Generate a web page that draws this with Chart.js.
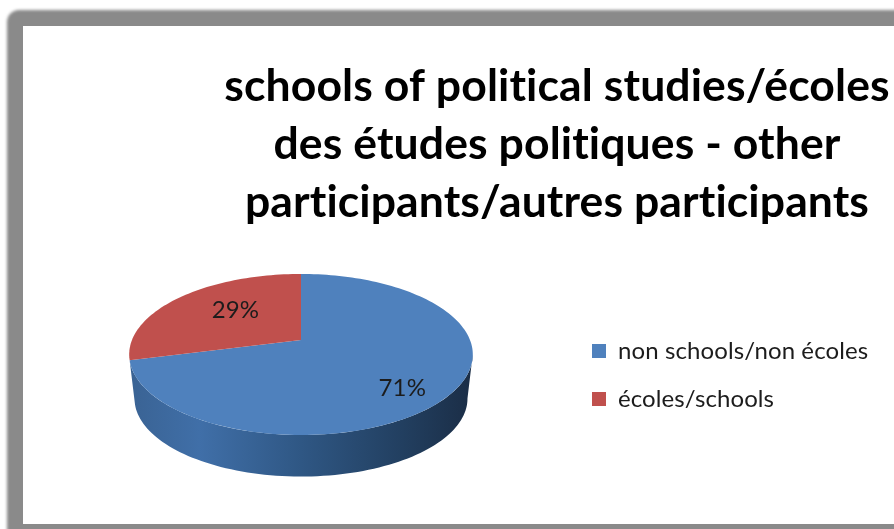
<!DOCTYPE html>
<html>
<head>
<meta charset="utf-8">
<style>
  html, body { margin: 0; background: #fff; overflow: hidden; }
  #stage { position: relative; width: 894px; height: 529px; overflow: hidden; }
  #frame { position: absolute; left: 7px; top: 10px; width: 1000px; height: 700px; background: #8a8a8a; border-radius: 12px; filter: blur(1.5px); }
  #paper { position: absolute; left: 23px; top: 26px; width: 900px; height: 498px; background: #fff; }
  canvas { position: absolute; left: 0; top: 0; }
</style>
<script src="https://cdn.jsdelivr.net/npm/chart.js@4"></script>
</head>
<body>
<div id="stage">
  <div id="frame"></div>
  <div id="paper"></div>
  <canvas id="pieChart" width="894" height="529"></canvas>
</div>
<script>
// Data
const categories = ["non schools/non écoles", "écoles/schools"];
const shares = [71, 29];
const sliceColors = ["#4f81bd", "#c0504d"];
const titleLines = [
    "schools of political studies/écoles",
    "des études politiques - other",
    "participants/autres participants"
];

// 3D look of the pie: tilt, perspective and thickness
const squash = 0.461;
const persp = -0.18;
const thickness = 45;
const bottomScale = 0.97;

// where each percentage sits inside its slice
const labelSpots = [{ f: 0.7, dy: 12 }, { f: 0.52, dy: -6 }];

// angle on the flat pie -> point on the tilted pie
function project(arc, a, f, drop) {
    const d = 1 + persp * f * Math.sin(a);
    return {
        x: arc.x + arc.outerRadius * f * Math.cos(a) / d,
        y: arc.y + drop + squash * arc.outerRadius * f * Math.sin(a) / d
    };
}

function tracePath(ctx, arc, from, to, f, drop, first) {
    const steps = Math.max(2, Math.ceil(Math.abs(to - from) / 0.03));
    for (let i = 0; i <= steps; i++) {
        const p = project(arc, from + (to - from) * i / steps, f, drop);
        if (i === 0 && first) ctx.moveTo(p.x, p.y);
        else ctx.lineTo(p.x, p.y);
    }
}

const tiltedPie = {
    id: 'tiltedPie',
    afterLayout(chart) {
        // title and legend sit off centre in the original
        chart.titleBlock.left = 224;
        chart.titleBlock.right = 890;
        const h = chart.legend.bottom - chart.legend.top;
        chart.legend.left = 568;
        chart.legend.top = 315;
        chart.legend.bottom = 315 + h;
    },
    beforeDraw(chart) {
        // a little spacing keeps Lato from joining "ti" into a ligature
        chart.ctx.letterSpacing = "0.1px";
    },
    beforeDatasetsDraw(chart) {
        const ctx = chart.ctx;
        const arcs = chart.getDatasetMeta(0).data;

        // side wall under the blue slice only, the red one is at the back
        const blue = arcs[0];
        const front0 = 10 * Math.PI / 180;
        const front1 = Math.min(blue.endAngle, 170 * Math.PI / 180);
        const side = ctx.createLinearGradient(blue.x - blue.outerRadius, 0, blue.x + blue.outerRadius, 0);
        side.addColorStop(0, "#3a6394");
        side.addColorStop(0.2, "#406fa8");
        side.addColorStop(0.5, "#2f5784");
        side.addColorStop(0.8, "#223f60");
        side.addColorStop(1, "#1b2e47");
        ctx.save();
        ctx.beginPath();
        tracePath(ctx, blue, front0, front1, 1, 0, true);
        tracePath(ctx, blue, front1, front0, bottomScale, thickness, false);
        ctx.closePath();
        ctx.fillStyle = side;
        ctx.fill();

        // top faces
        arcs.forEach((arc, i) => {
            ctx.beginPath();
            const c = project(arc, 0, 0, 0);
            ctx.moveTo(c.x, c.y);
            tracePath(ctx, arc, arc.startAngle, arc.endAngle, 1, 0, false);
            ctx.closePath();
            ctx.fillStyle = sliceColors[i];
            ctx.fill();
        });

        // percentages
        ctx.fillStyle = "#1c1c1c";
        ctx.font = "24px Lato";
        ctx.textAlign = "center";
        ctx.textBaseline = "middle";
        arcs.forEach((arc, i) => {
            const p = project(arc, (arc.startAngle + arc.endAngle) / 2, labelSpots[i].f, labelSpots[i].dy);
            ctx.fillText(shares[i] + "%", p.x, p.y);
        });
        ctx.restore();
        return false;
    }
};

new Chart(document.getElementById('pieChart'), {
    type: 'pie',
    data: {
        labels: categories,
        datasets: [{
            data: shares,
            backgroundColor: sliceColors,
            borderWidth: 0,
            radius: 169
        }]
    },
    options: {
        responsive: false,
        animation: false,
        layout: { padding: { left: 16, right: 0, top: 58, bottom: 81 } },
        plugins: {
            tooltip: { enabled: false },
            title: {
                display: true,
                text: titleLines,
                color: "#000",
                padding: 0,
                font: { family: "Lato", size: 44.5, weight: "bold", lineHeight: 1.303 }
            },
            legend: {
                display: true,
                position: 'right',
                align: 'start',
                labels: {
                    boxWidth: 14,
                    boxHeight: 14,
                    padding: 24,
                    color: "#1c1c1c",
                    font: { family: "Lato", size: 24 }
                }
            }
        }
    },
    plugins: [tiltedPie]
});
</script>
</body>
</html>
